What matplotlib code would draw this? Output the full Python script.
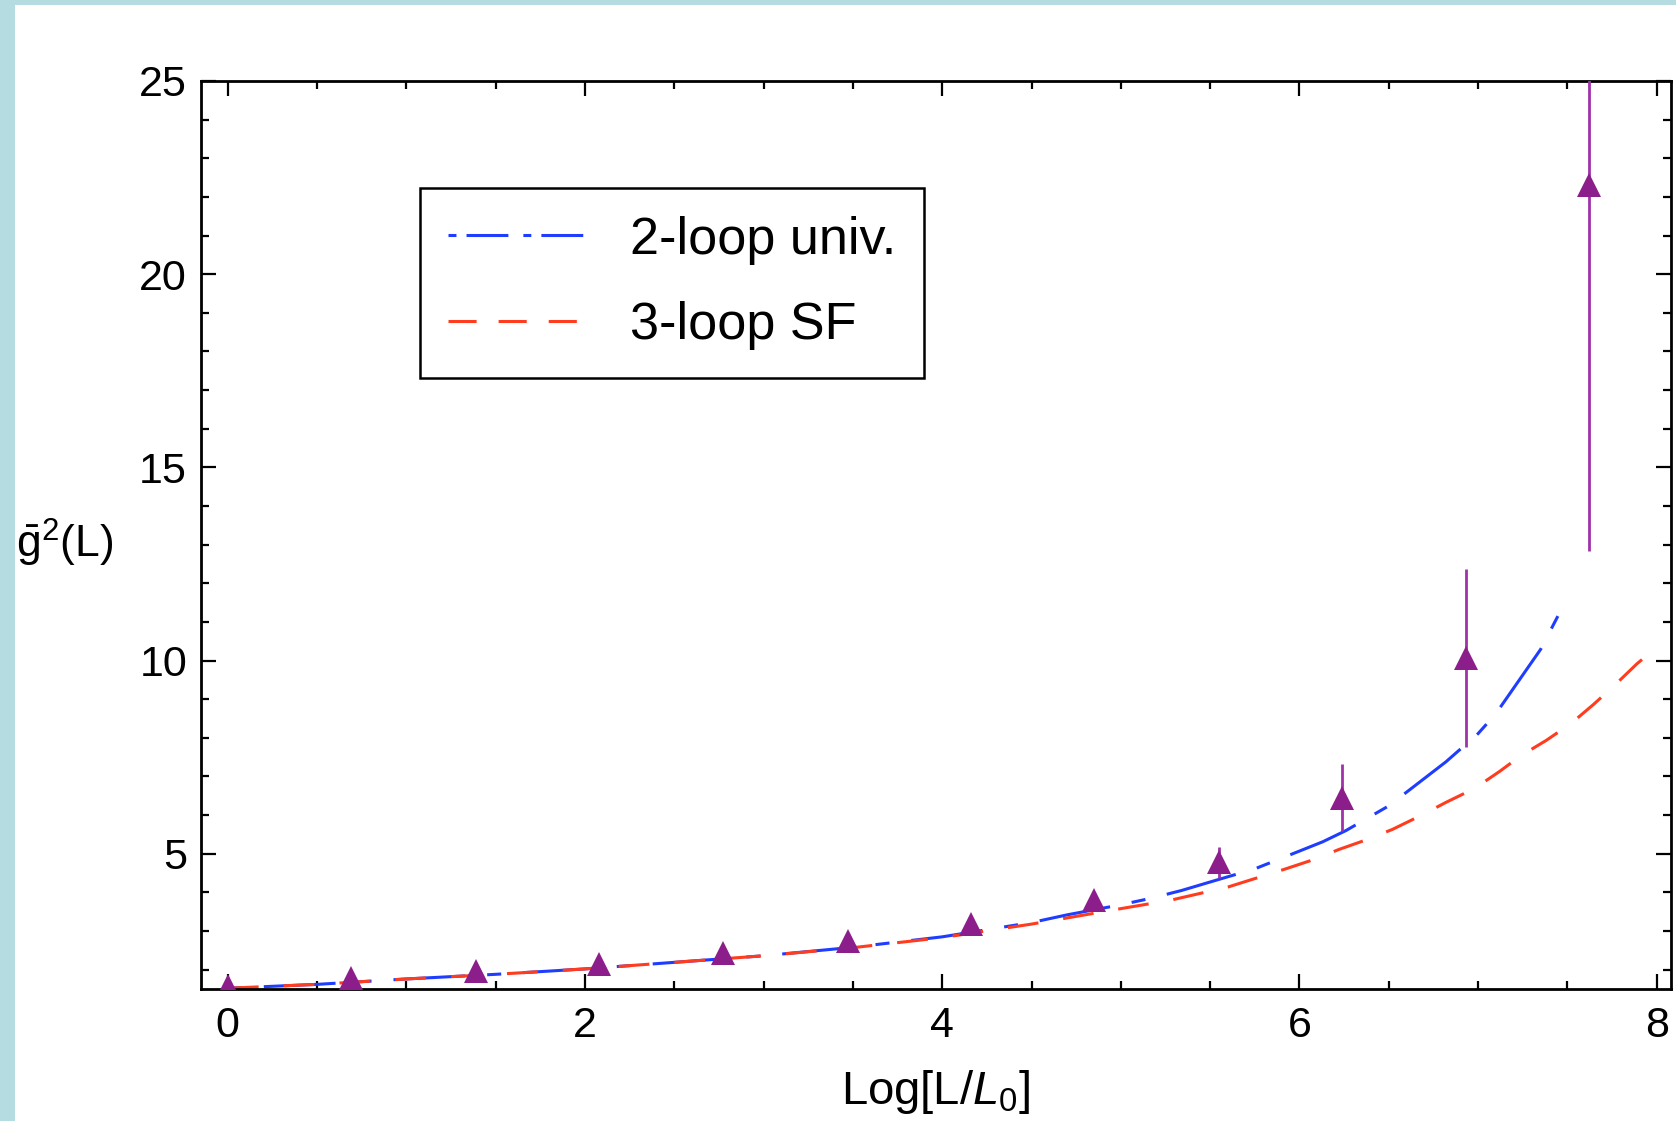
import matplotlib
matplotlib.use("Agg")
import matplotlib.pyplot as plt
from matplotlib.lines import Line2D
from matplotlib.patches import Rectangle
from matplotlib.ticker import MultipleLocator

# ---------------- data ----------------
pts_x = [0.0, 0.69, 1.39, 2.08, 2.77, 3.47, 4.16, 4.85, 5.55, 6.24, 6.93, 7.62]
pts_y = [1.58, 1.78, 1.96, 2.14, 2.42, 2.74, 3.18, 3.80, 4.78, 6.45, 10.07, 22.30]
pts_err = [0.02, 0.02, 0.03, 0.03, 0.04, 0.05, 0.06, 0.10, 0.40, 0.87, 2.30, 9.47]

blue_x = [0.0, 0.5, 1.0, 1.5, 2.0, 2.5, 3.0, 3.5, 4.0, 4.5, 4.7, 5.0, 5.17, 5.34,
          5.5, 5.75, 6.0, 6.13, 6.26, 6.5, 6.82, 7.0, 7.1, 7.35, 7.46]
blue_y = [1.52, 1.62, 1.76, 1.88, 2.02, 2.19, 2.36, 2.58, 2.85, 3.22, 3.42, 3.68, 3.85, 4.05,
          4.27, 4.61, 5.07, 5.31, 5.60, 6.24, 7.38, 8.11, 8.63, 10.29, 11.27]

red_x = [0.0, 0.5, 1.0, 1.5, 2.0, 2.5, 3.0, 3.5, 4.0, 4.5, 4.7, 5.0, 5.28, 5.6, 5.91,
         6.08, 6.22, 6.38, 6.52, 6.68, 6.82, 6.98, 7.12, 7.24, 7.38, 7.52, 7.65, 7.78, 7.89, 7.95]
red_y = [1.52, 1.62, 1.76, 1.88, 2.02, 2.19, 2.36, 2.57, 2.83, 3.18, 3.34, 3.58, 3.80, 4.14, 4.59,
         4.85, 5.11, 5.37, 5.63, 5.99, 6.33, 6.69, 7.13, 7.54, 7.93, 8.37, 8.88, 9.43, 9.92, 10.15]

series_labels = ["2-loop univ.", "3-loop SF"]
x_ticks = [0, 2, 4, 6, 8]
y_ticks = [5, 10, 15, 20, 25]
x_label = r"Log[L/$L_0$]"
y_label = r"$\bar{\mathrm{g}}^{2}$(L)"

# ---------------- style ----------------
plt.rcParams["font.family"] = ["Liberation Sans", "DejaVu Sans"]
plt.rcParams["mathtext.fontset"] = "custom"
plt.rcParams["mathtext.rm"] = "Liberation Sans"
plt.rcParams["mathtext.it"] = "Liberation Sans:italic"

BLUE = "#1f3dff"
RED = "#ff3c1e"
PURPLE = "#8c1e8c"
ERR = "#a032aa"
BG = "#b5dde1"

W, H = 1676, 1121
fig = plt.figure(figsize=(W / 100, H / 100), dpi=100)
fig.patch.set_facecolor(BG)
fig.add_artist(Rectangle((15 / W, 0), 1 - 15 / W, 1 - 5 / H, transform=fig.transFigure,
                         facecolor="white", edgecolor="none", zorder=-10))

ax = fig.add_axes([201 / W, 1 - 989 / H, (1671 - 201) / W, (989 - 81) / H])
ax.set_facecolor("white")

lw = 2.2
ax.plot(blue_x, blue_y, color=BLUE, lw=lw, linestyle=(0, (4.6, 7.2, 23.5, 7.2)), zorder=2)
ax.plot(red_x, red_y, color=RED, lw=lw, linestyle=(0, (10.1, 8.2)), zorder=2)

ax.errorbar(pts_x, pts_y, yerr=pts_err, fmt="^", color=PURPLE, ecolor=ERR,
            elinewidth=2.0, capsize=5, capthick=2.0, markersize=17,
            markeredgewidth=0, zorder=3, clip_on=True)

ax.set_xlim(-0.15, 8.08)
ax.set_ylim(1.5, 25)
ax.set_xticks(x_ticks)
ax.set_yticks(y_ticks)
ax.xaxis.set_minor_locator(MultipleLocator(0.5))
ax.yaxis.set_minor_locator(MultipleLocator(1))

for sp in ax.spines.values():
    sp.set_linewidth(2.0)

ax.tick_params(which="both", direction="in", top=True, right=True, width=1.6, labelsize=31)
ax.tick_params(which="major", length=11)
ax.tick_params(which="minor", length=6)
ax.tick_params(axis="x", pad=12)
ax.tick_params(axis="y", pad=10)

ax.set_xlabel(x_label, fontsize=34, labelpad=16)
ax.set_ylabel(y_label, fontsize=32, rotation=0, ha="left", va="center")
ax.yaxis.set_label_coords((16 - 201) / 1470, (989 - 543) / 908)

handles = [
    Line2D([], [], color=BLUE, lw=lw, linestyle=(0, (2.6, 3.3, 13.7, 4.9))),
    Line2D([], [], color=RED, lw=lw, linestyle=(0, (9.2, 7.2))),
]
leg = ax.legend(handles, series_labels, loc="upper left",
                bbox_to_anchor=(420 / W, 1 - 188 / H), bbox_transform=fig.transFigure,
                fontsize=37.5, frameon=True, fancybox=False, framealpha=1,
                edgecolor="black", handlelength=2.75, handletextpad=0.75,
                labelspacing=0.7, borderpad=0.53, borderaxespad=0)
leg.get_frame().set_linewidth(1.8)

fig.savefig("out.png", dpi=100, facecolor=fig.get_facecolor())
